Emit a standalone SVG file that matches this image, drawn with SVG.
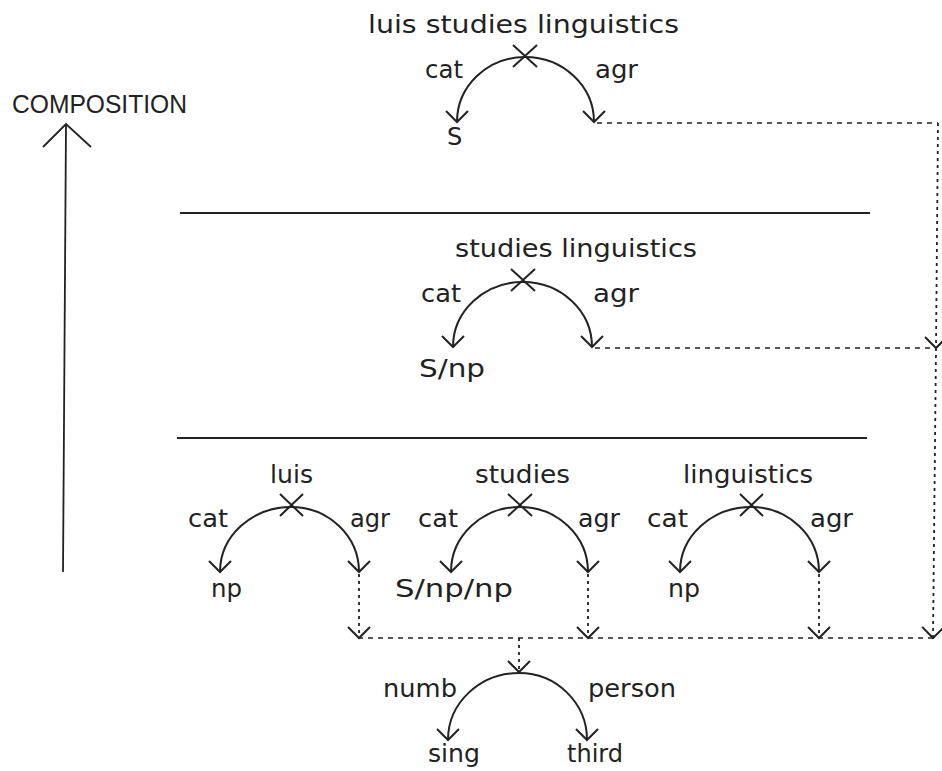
<svg xmlns="http://www.w3.org/2000/svg" width="942" height="771" viewBox="0 0 942 771">
  <style>
    .lbl { font-family: "DejaVu Sans", "Liberation Sans", sans-serif; font-size: 24px; fill: #222; }
    .ttl { font-family: "Liberation Sans", Arial, sans-serif; font-size: 25px; fill: #222; }
    .arc { fill: none; stroke: #222; stroke-width: 2; marker-end: url(#vee); }
    .cross { fill: none; stroke: #222; stroke-width: 2; }
    .rule { fill: none; stroke: #222; stroke-width: 1.8; }
    .dash { fill: none; stroke: #222; stroke-width: 1.6; stroke-dasharray: 5 5; }
    .dot { fill: none; stroke: #222; stroke-width: 1.8; stroke-dasharray: 3 4; }
    .tipdown { marker-end: url(#vee); }
  </style>
  <defs>
    <marker id="vee" markerUnits="userSpaceOnUse" viewBox="-13 -13 16 26" markerWidth="16" markerHeight="26" refX="0" refY="0" orient="auto" overflow="visible">
      <path d="M-11,-11 L0,0 L-11,11" fill="none" stroke="#222" stroke-width="2"/>
    </marker>
  </defs>
  <rect width="942" height="771" fill="#fff"/>

  <!-- composition axis -->
  <g id="axis">
    <text class="ttl" x="12" y="113" textLength="175" lengthAdjust="spacingAndGlyphs">COMPOSITION</text>
    <line x1="66" y1="125" x2="63" y2="572" class="rule"/>
    <polyline points="43,147 66,124 91,147" class="rule"/>
  </g>

  <!-- level separators -->
  <g id="separators">
    <line x1="180" y1="213" x2="870" y2="213" class="rule"/>
    <line x1="177" y1="438" x2="867" y2="438" class="rule"/>
  </g>

  <!-- sentence node -->
  <g id="node-sentence">
    <text class="lbl" x="368" y="33" textLength="311" lengthAdjust="spacingAndGlyphs">luis studies linguistics</text>
    <path class="arc" d="M525,57 A68,65 0 0 0 457,122"/>
    <path class="arc" d="M525,57 A69,65 0 0 1 594,122"/>
    <path class="cross" d="M513,45 L537,67 M537,45 L513,67"/>
    <text class="lbl" x="425" y="78" textLength="38" lengthAdjust="spacingAndGlyphs">cat</text>
    <text class="lbl" x="595" y="78" textLength="43" lengthAdjust="spacingAndGlyphs">agr</text>
    <text class="lbl" x="447" y="145">S</text>
  </g>

  <!-- verb phrase node -->
  <g id="node-vp">
    <text class="lbl" x="455" y="257" textLength="242" lengthAdjust="spacingAndGlyphs">studies linguistics</text>
    <path class="arc" d="M523,282 A70,65 0 0 0 453,347"/>
    <path class="arc" d="M523,282 A69,65 0 0 1 592,347"/>
    <path class="cross" d="M511,269 L535,291 M535,269 L511,291"/>
    <text class="lbl" x="421" y="302" textLength="40" lengthAdjust="spacingAndGlyphs">cat</text>
    <text class="lbl" x="593" y="302" textLength="46" lengthAdjust="spacingAndGlyphs">agr</text>
    <text class="lbl" x="419" y="377" textLength="66" lengthAdjust="spacingAndGlyphs">S/np</text>
  </g>

  <!-- lexical nodes -->
  <g id="node-luis">
    <text class="lbl" x="270" y="483" textLength="43" lengthAdjust="spacingAndGlyphs">luis</text>
    <path class="arc" d="M291,507 A71,65 0 0 0 220,572"/>
    <path class="arc" d="M291,507 A68,65 0 0 1 359,572"/>
    <path class="cross" d="M280,494 L303,516 M303,494 L280,516"/>
    <text class="lbl" x="188" y="527" textLength="40" lengthAdjust="spacingAndGlyphs">cat</text>
    <text class="lbl" x="350" y="527" textLength="40" lengthAdjust="spacingAndGlyphs">agr</text>
    <text class="lbl" x="211" y="597" textLength="31" lengthAdjust="spacingAndGlyphs">np</text>
  </g>

  <g id="node-studies">
    <text class="lbl" x="475" y="483" textLength="95" lengthAdjust="spacingAndGlyphs">studies</text>
    <path class="arc" d="M520,507 A69,65 0 0 0 451,572"/>
    <path class="arc" d="M520,507 A68,65 0 0 1 588,572"/>
    <path class="cross" d="M508,494 L532,516 M532,494 L508,516"/>
    <text class="lbl" x="418" y="527" textLength="40" lengthAdjust="spacingAndGlyphs">cat</text>
    <text class="lbl" x="578" y="527" textLength="42" lengthAdjust="spacingAndGlyphs">agr</text>
    <text class="lbl" x="395" y="597" textLength="118" lengthAdjust="spacingAndGlyphs">S/np/np</text>
  </g>

  <g id="node-linguistics">
    <text class="lbl" x="683" y="483" textLength="130" lengthAdjust="spacingAndGlyphs">linguistics</text>
    <path class="arc" d="M751,507 A71,65 0 0 0 680,572"/>
    <path class="arc" d="M751,507 A68,65 0 0 1 819,572"/>
    <path class="cross" d="M740,494 L763,516 M763,494 L740,516"/>
    <text class="lbl" x="647" y="527" textLength="41" lengthAdjust="spacingAndGlyphs">cat</text>
    <text class="lbl" x="810" y="527" textLength="43" lengthAdjust="spacingAndGlyphs">agr</text>
    <text class="lbl" x="668" y="597" textLength="32" lengthAdjust="spacingAndGlyphs">np</text>
  </g>

  <!-- shared agreement structure -->
  <g id="node-agreement">
    <path class="arc" d="M519,673 A71,67 0 0 0 448,740"/>
    <path class="arc" d="M519,673 A68,67 0 0 1 587,740"/>
    <text class="lbl" x="383" y="697" textLength="74" lengthAdjust="spacingAndGlyphs">numb</text>
    <text class="lbl" x="588" y="697" textLength="88" lengthAdjust="spacingAndGlyphs">person</text>
    <text class="lbl" x="428" y="762" textLength="52" lengthAdjust="spacingAndGlyphs">sing</text>
    <text class="lbl" x="567" y="762" textLength="56" lengthAdjust="spacingAndGlyphs">third</text>
  </g>

  <!-- reentrancy connectors -->
  <g id="connectors">
    <path class="dash" d="M597,123 L938,123"/>
    <path class="dot" d="M938,123 L936,348"/>
    <path class="dot tipdown" d="M936,348 L933,638"/>
    <path class="dash" d="M595,348 L936,348"/>
    <path class="dash" d="M358,638 L933,638"/>
    <path class="dot tipdown" d="M359,574 L359,638"/>
    <path class="dot tipdown" d="M588,574 L588,638"/>
    <path class="dot tipdown" d="M819,574 L819,638"/>
    <path class="dot tipdown" d="M519,638 L519,672"/>
    <path d="M925,337 L936,348 L947,337" fill="none" stroke="#222" stroke-width="2"/>
  </g>
</svg>
